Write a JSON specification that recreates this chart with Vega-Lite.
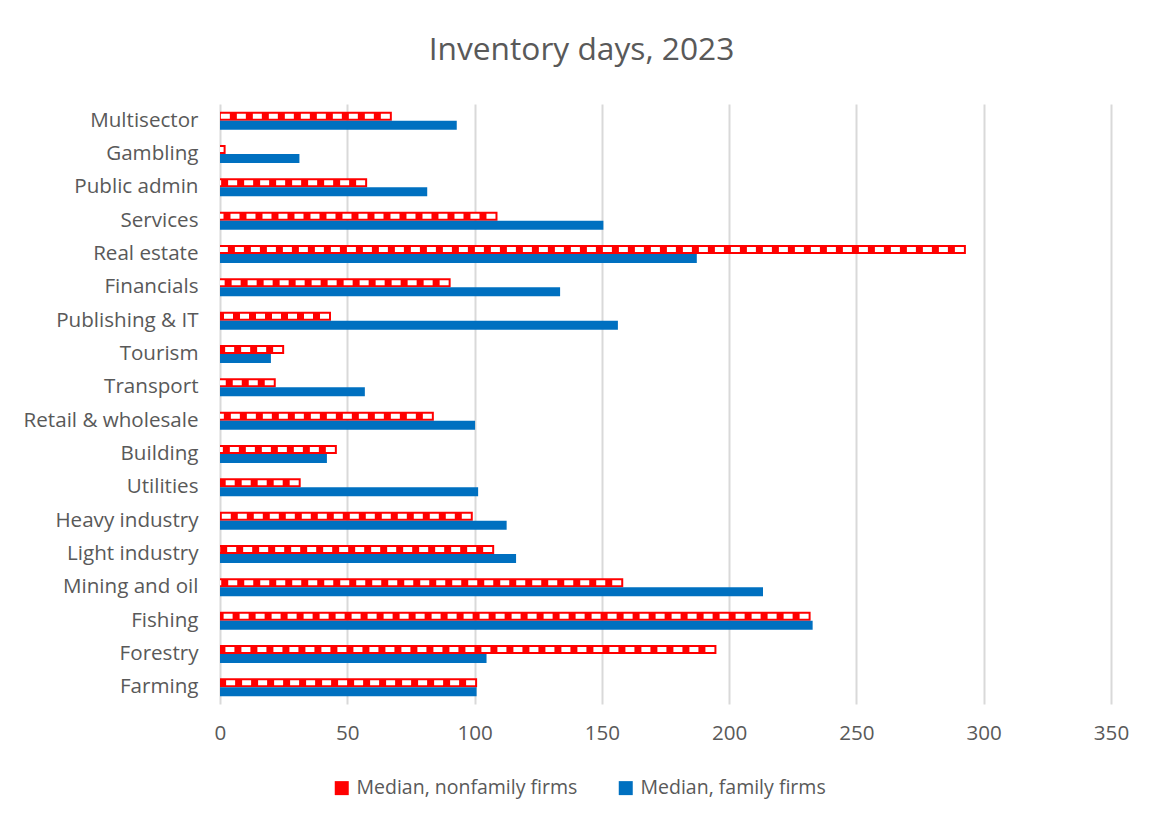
{
  "$schema": "https://vega.github.io/schema/vega-lite/v6.json",
  "autosize": "none",
  "width": 891,
  "height": 600,
  "padding": {"left": 220, "top": 104, "right": 46, "bottom": 121},
  "background": "white",
  "title": {
    "text": "Inventory days, 2023",
    "fontSize": 31.7,
    "font": "Open Sans",
    "fontWeight": "normal",
    "color": "#595959",
    "anchor": "middle",
    "dx": -84,
    "offset": 37
  },
  "config": {
    "view": {"stroke": null},
    "font": "Open Sans"
  },
  "data": {
    "values": [
      {"sector": "Multisector", "series": "Median, nonfamily firms", "value": 67.5},
      {"sector": "Multisector", "series": "Median, family firms", "value": 93},
      {"sector": "Gambling", "series": "Median, nonfamily firms", "value": 2.2},
      {"sector": "Gambling", "series": "Median, family firms", "value": 31.2},
      {"sector": "Public admin", "series": "Median, nonfamily firms", "value": 57.8},
      {"sector": "Public admin", "series": "Median, family firms", "value": 81.4},
      {"sector": "Services", "series": "Median, nonfamily firms", "value": 109},
      {"sector": "Services", "series": "Median, family firms", "value": 150.6},
      {"sector": "Real estate", "series": "Median, nonfamily firms", "value": 293},
      {"sector": "Real estate", "series": "Median, family firms", "value": 187.3},
      {"sector": "Financials", "series": "Median, nonfamily firms", "value": 90.6},
      {"sector": "Financials", "series": "Median, family firms", "value": 133.6},
      {"sector": "Publishing & IT", "series": "Median, nonfamily firms", "value": 43.6},
      {"sector": "Publishing & IT", "series": "Median, family firms", "value": 156.3},
      {"sector": "Tourism", "series": "Median, nonfamily firms", "value": 25.2},
      {"sector": "Tourism", "series": "Median, family firms", "value": 20},
      {"sector": "Transport", "series": "Median, nonfamily firms", "value": 21.9},
      {"sector": "Transport", "series": "Median, family firms", "value": 56.9},
      {"sector": "Retail & wholesale", "series": "Median, nonfamily firms", "value": 84},
      {"sector": "Retail & wholesale", "series": "Median, family firms", "value": 100.2},
      {"sector": "Building", "series": "Median, nonfamily firms", "value": 45.9},
      {"sector": "Building", "series": "Median, family firms", "value": 42},
      {"sector": "Utilities", "series": "Median, nonfamily firms", "value": 31.7},
      {"sector": "Utilities", "series": "Median, family firms", "value": 101.4},
      {"sector": "Heavy industry", "series": "Median, nonfamily firms", "value": 99.3},
      {"sector": "Heavy industry", "series": "Median, family firms", "value": 112.6},
      {"sector": "Light industry", "series": "Median, nonfamily firms", "value": 107.7},
      {"sector": "Light industry", "series": "Median, family firms", "value": 116.3},
      {"sector": "Mining and oil", "series": "Median, nonfamily firms", "value": 158.4},
      {"sector": "Mining and oil", "series": "Median, family firms", "value": 213.3},
      {"sector": "Fishing", "series": "Median, nonfamily firms", "value": 232},
      {"sector": "Fishing", "series": "Median, family firms", "value": 232.8},
      {"sector": "Forestry", "series": "Median, nonfamily firms", "value": 195},
      {"sector": "Forestry", "series": "Median, family firms", "value": 104.7},
      {"sector": "Farming", "series": "Median, nonfamily firms", "value": 101},
      {"sector": "Farming", "series": "Median, family firms", "value": 100.8}
    ]
  },
  "encoding": {
    "y": {
      "field": "sector",
      "type": "nominal",
      "sort": ["Multisector", "Gambling", "Public admin", "Services", "Real estate", "Financials", "Publishing & IT", "Tourism", "Transport", "Retail & wholesale", "Building", "Utilities", "Heavy industry", "Light industry", "Mining and oil", "Fishing", "Forestry", "Farming"],
      "scale": {"paddingInner": 0.46, "paddingOuter": 0.23},
      "axis": {
        "title": null,
        "domain": false,
        "ticks": false,
        "labelFontSize": 20.6,
        "labelColor": "#595959",
        "labelPadding": 22,
        "labelFont": "Open Sans",
        "labelLimit": 0
      }
    },
    "x": {
      "field": "value",
      "type": "quantitative",
      "scale": {"domain": [0, 350]},
      "axis": {
        "title": null,
        "values": [0, 50, 100, 150, 200, 250, 300, 350],
        "domain": false,
        "ticks": false,
        "grid": true,
        "gridColor": "#D9D9D9",
        "gridWidth": 2,
        "labelFlush": false,
        "labelFontSize": 20.6,
        "labelColor": "#595959",
        "labelPadding": 19,
        "labelFont": "Open Sans"
      }
    }
  },
  "layer": [
    {
      "mark": {"type": "bar"},
      "encoding": {
        "yOffset": {
          "field": "series",
          "type": "nominal",
          "sort": ["Median, nonfamily firms", "Median, family firms"],
          "scale": {"paddingInner": 0, "paddingOuter": 0}
        },
        "color": {
          "field": "series",
          "type": "nominal",
          "scale": {
            "domain": ["Median, nonfamily firms", "Median, family firms"],
            "range": ["#FF0000", "#0070C0"]
          },
          "legend": {
            "title": null,
            "orient": "none",
            "direction": "horizontal",
            "legendX": 112,
            "legendY": 674,
            "symbolType": "square",
            "symbolSize": 196,
            "symbolOpacity": 1,
            "labelFontSize": 19.5,
            "labelColor": "#595959",
            "labelFont": "Open Sans",
            "labelOffset": 5,
            "labelLimit": 0,
            "columnPadding": 38
          }
        }
      }
    },
    {
      "transform": [{"filter": "datum.series === 'Median, nonfamily firms'"}],
      "mark": {
        "type": "rule",
        "color": "white",
        "strokeWidth": 5,
        "strokeDash": [9, 7],
        "strokeDashOffset": 14,
        "yOffset": -4.5
      },
      "encoding": {
        "x2": {"datum": 0}
      }
    }
  ]
}
